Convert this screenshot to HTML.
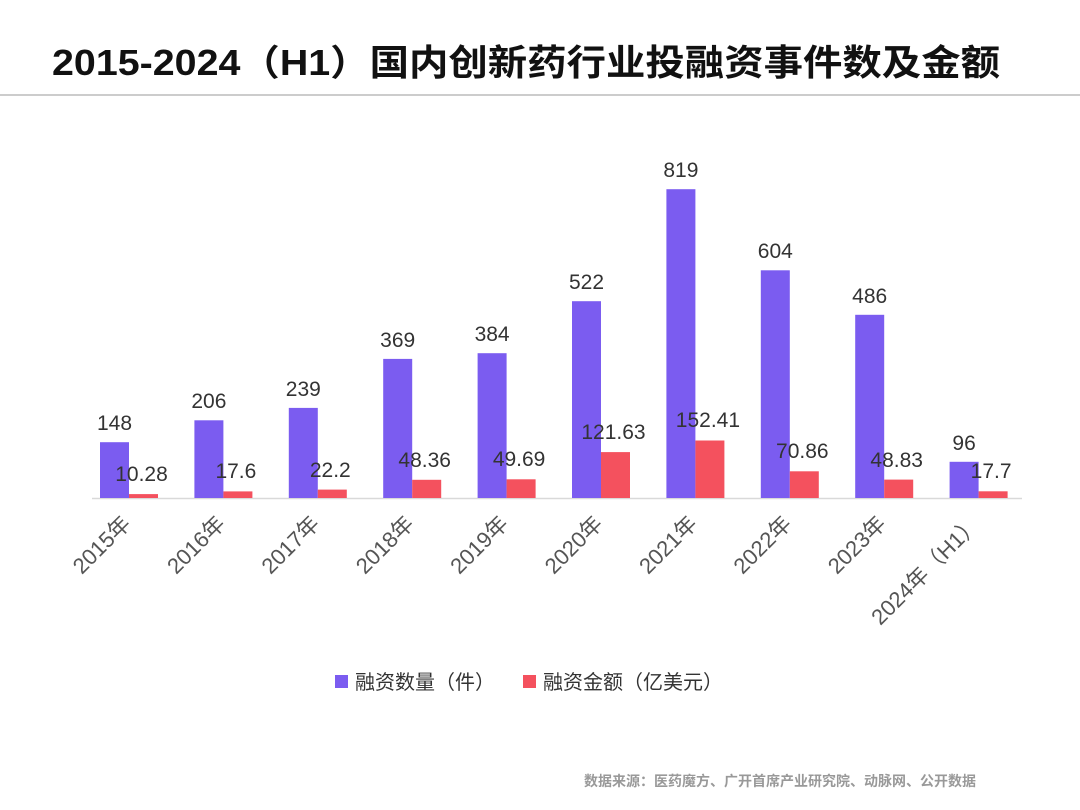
<!DOCTYPE html>
<html><head><meta charset="utf-8"><style>
body{margin:0;background:#fff;}
svg{display:block;font-family:"Liberation Sans","Noto Sans CJK SC",sans-serif;}
</style></head><body>
<svg width="1080" height="810" viewBox="0 0 1080 810">
<text x="52" y="75" font-size="36" font-weight="bold" fill="#111" textLength="948" lengthAdjust="spacingAndGlyphs">2015-2024（H1）国内创新药行业投融资事件数及金额</text>
<rect x="0" y="94" width="1080" height="2" fill="#ccc"/>
<line x1="92" y1="498.5" x2="1022" y2="498.5" stroke="#d9d9d9" stroke-width="1.5"/>
<g fill="#7b5cf0">
<rect x="100" y="442.2" width="29" height="55.8"/>
<rect x="194.4" y="420.3" width="29" height="77.7"/>
<rect x="288.8" y="407.9" width="29" height="90.1"/>
<rect x="383.2" y="358.9" width="29" height="139.1"/>
<rect x="477.6" y="353.2" width="29" height="144.8"/>
<rect x="572" y="301.2" width="29" height="196.8"/>
<rect x="666.4" y="189.2" width="29" height="308.8"/>
<rect x="760.8" y="270.3" width="29" height="227.7"/>
<rect x="855.2" y="314.8" width="29" height="183.2"/>
<rect x="949.6" y="461.8" width="29" height="36.2"/>
</g>
<g fill="#f4515e">
<rect x="129" y="494.1" width="29" height="3.9"/>
<rect x="223.4" y="491.4" width="29" height="6.6"/>
<rect x="317.8" y="489.6" width="29" height="8.4"/>
<rect x="412.2" y="479.8" width="29" height="18.2"/>
<rect x="506.6" y="479.3" width="29" height="18.7"/>
<rect x="601" y="452.1" width="29" height="45.9"/>
<rect x="695.4" y="440.5" width="29" height="57.5"/>
<rect x="789.8" y="471.3" width="29" height="26.7"/>
<rect x="884.2" y="479.6" width="29" height="18.4"/>
<rect x="978.6" y="491.3" width="29" height="6.7"/>
</g>
<g font-size="21" fill="#333" text-anchor="middle">
<text x="114.5" y="430">148</text>
<text x="208.9" y="408">206</text>
<text x="303.3" y="396">239</text>
<text x="397.7" y="347">369</text>
<text x="492.1" y="341">384</text>
<text x="586.5" y="289">522</text>
<text x="680.9" y="177">819</text>
<text x="775.3" y="258">604</text>
<text x="869.7" y="303">486</text>
<text x="964.1" y="450">96</text>
<text x="141.5" y="481">10.28</text>
<text x="235.9" y="478">17.6</text>
<text x="330.3" y="477">22.2</text>
<text x="424.7" y="467">48.36</text>
<text x="519.1" y="466">49.69</text>
<text x="613.5" y="439">121.63</text>
<text x="707.9" y="427">152.41</text>
<text x="802.3" y="458">70.86</text>
<text x="896.7" y="467">48.83</text>
<text x="991.1" y="478">17.7</text>
</g>
<g font-size="22" fill="#555" text-anchor="end">
<text x="132" y="525" transform="rotate(-45 132 525)">2015年</text>
<text x="226.4" y="525" transform="rotate(-45 226.4 525)">2016年</text>
<text x="320.8" y="525" transform="rotate(-45 320.8 525)">2017年</text>
<text x="415.2" y="525" transform="rotate(-45 415.2 525)">2018年</text>
<text x="509.6" y="525" transform="rotate(-45 509.6 525)">2019年</text>
<text x="604" y="525" transform="rotate(-45 604 525)">2020年</text>
<text x="698.4" y="525" transform="rotate(-45 698.4 525)">2021年</text>
<text x="792.8" y="525" transform="rotate(-45 792.8 525)">2022年</text>
<text x="887.2" y="525" transform="rotate(-45 887.2 525)">2023年</text>
<text x="981.6" y="525" transform="rotate(-45 981.6 525)">2024年（H1）</text>
</g>
<text x="976" y="786" text-anchor="end" font-size="14" font-weight="bold" fill="#999">数据来源：医药魔方、广开首席产业研究院、动脉网、公开数据</text>
<rect x="335" y="675" width="13" height="13" fill="#7b5cf0"/>
<text x="355" y="689" font-size="20" fill="#333">融资数量（件）</text>
<rect x="523" y="675" width="13" height="13" fill="#f4515e"/>
<text x="543" y="689" font-size="20" fill="#333">融资金额（亿美元）</text>
</svg>
</body></html>
